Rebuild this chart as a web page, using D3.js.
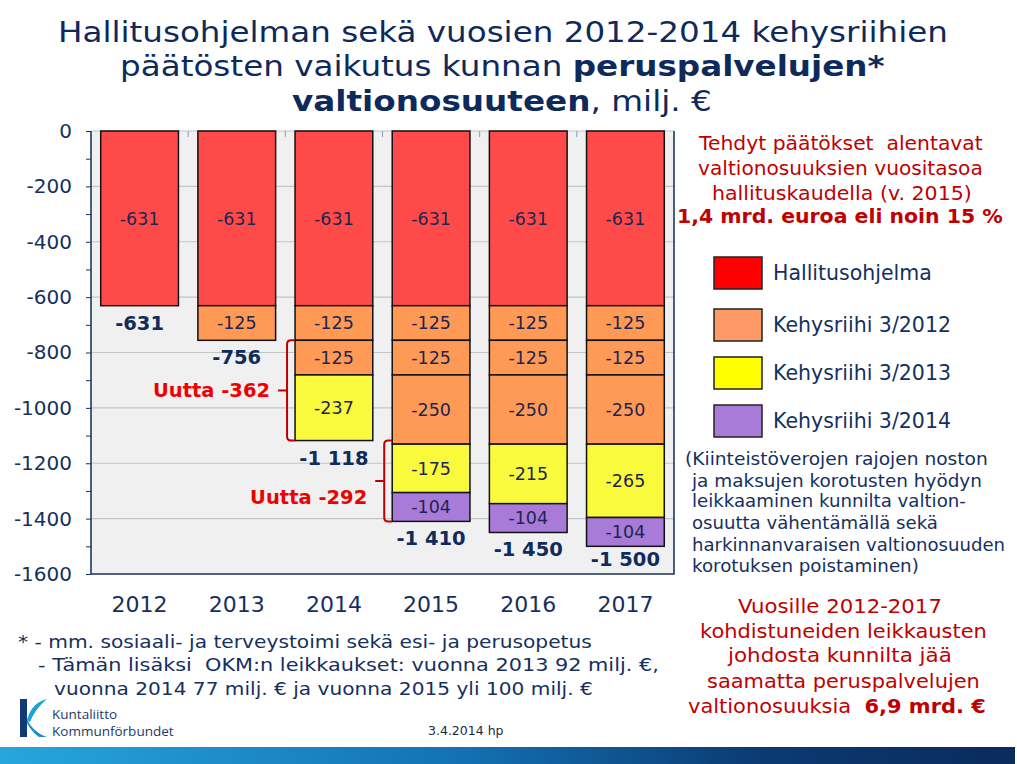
<!DOCTYPE html>
<html><head><meta charset="utf-8">
<script src="https://cdn.jsdelivr.net/npm/d3@7"></script>
<style>
html,body{margin:0;padding:0;background:#fff;}
svg{display:block;font-family:"DejaVu Sans",Verdana,sans-serif;}
</style></head>
<body>
<svg id="c" width="1017" height="764"></svg>
<script>
// ---- data ----
const years = ["2012","2013","2014","2015","2016","2017"];
const hallitusohjelma = [-631,-631,-631,-631,-631,-631];
const kehys2012a = [0,-125,-125,-125,-125,-125];
const kehys2012b = [0,0,-125,-125,-125,-125];
const kehys2012c = [0,0,0,-250,-250,-250];
const kehys2013 = [0,0,-237,-175,-215,-265];
const kehys2014 = [0,0,0,-104,-104,-104];
const yTicks = [0,-200,-400,-600,-800,-1000,-1200,-1400,-1600];
const legendLabels = ["Hallitusohjelma","Kehysriihi 3/2012","Kehysriihi 3/2013","Kehysriihi 3/2014"];
const bracketYears = ["2014","2015"];
const bracketFrom = [-756,-1118];
const bracketTo = [-1118,-1410];
const bracketLabels = ["Uutta -362","Uutta -292"];

const NAVY = "#15305f", DARKRED = "#c00000", RED = "#ee0000";
const barColors = ["#ff4a4a","#ff9a56","#fafa3c","#a97bd9"];
const legendColors = ["#ff0000","#ff9966","#ffff00","#a97bd9"];

const svg = d3.select("#c");
const defs = svg.append("defs");

// series build
const keys = ["h","a","b","c","k13","k14"];
const colorIdx = {h:0,a:1,b:1,c:1,k13:2,k14:3};
const table = years.map((y,i)=>({year:y,h:hallitusohjelma[i],a:kehys2012a[i],b:kehys2012b[i],c:kehys2012c[i],k13:kehys2013[i],k14:kehys2014[i]}));
const stacked = d3.stack().keys(keys).offset(d3.stackOffsetDiverging)(table);
const totals = table.map(d=>d3.sum(keys,k=>d[k]));

const fmt = d3.formatLocale({decimal:",",thousands:" ",grouping:[3],currency:["","€"],minus:"-"}).format(",d");

// scales
const plot = {l:91,r:674,t:131,b:574};
const x = d3.scaleBand().domain(years).range([plot.l,plot.r]).paddingInner(0).paddingOuter(0);
const y = d3.scaleLinear().domain([0,-1600]).range([plot.t,plot.b]);
const bw = x.bandwidth()*0.8;
const bx = d => x(d) + (x.bandwidth()-bw)/2;

// plot background
svg.append("rect").attr("x",plot.l).attr("y",plot.t).attr("width",plot.r-plot.l).attr("height",plot.b-plot.t).attr("fill","#f0f0f0");
// gridlines
svg.append("g").selectAll("line").data(yTicks).join("line")
  .attr("x1",plot.l).attr("x2",plot.r).attr("y1",d=>y(d)).attr("y2",d=>y(d))
  .attr("stroke","#c4c4c4").attr("stroke-width",1.2);
// top category ticks
svg.append("g").selectAll("line").data(years.slice(1)).join("line")
  .attr("x1",d=>x(d)).attr("x2",d=>x(d)).attr("y1",plot.t).attr("y2",plot.t+6)
  .attr("stroke","#8a9ab5").attr("stroke-width",1);

// y axis
const yAxis = d3.axisLeft(y).tickValues(d3.range(0,-1601,-100)).tickSize(5).tickPadding(14)
  .tickFormat(d => d%200===0 ? String(d) : "");
const gy = svg.append("g").attr("transform",`translate(${plot.l},0)`).call(yAxis);
gy.select(".domain").remove();
gy.selectAll(".tick line").attr("stroke",NAVY).attr("stroke-width",1);
gy.selectAll(".tick text").attr("fill",NAVY).style("font-size","20px").style("font-family","DejaVu Sans");

// x axis labels
const xAxis = d3.axisBottom(x).tickSize(0).tickPadding(22);
const gx = svg.append("g").attr("transform",`translate(0,${plot.b})`).call(xAxis);
gx.select(".domain").remove();
gx.selectAll(".tick text").attr("fill",NAVY).style("font-size","22px").style("font-family","DejaVu Sans");

// plot border (left, bottom, right)
svg.append("path")
  .attr("d",`M${plot.l},${plot.t}V${plot.b}H${plot.r}V${plot.t}`)
  .attr("fill","none").attr("stroke","#1f3864").attr("stroke-width",1.6);

// bars
const segs = [];
stacked.forEach(s=>{
  s.forEach((d,i)=>{
    const v = d.data[s.key];
    if (v !== 0) segs.push({year:years[i],y0:d[0],y1:d[1],v,c:colorIdx[s.key]});
  });
});
const gb = svg.append("g");
gb.selectAll("rect").data(segs).join("rect")
  .attr("x",d=>bx(d.year)).attr("width",bw)
  .attr("y",d=>y(d.y1)).attr("height",d=>y(d.y0)-y(d.y1))
  .attr("fill",d=>barColors[d.c]).attr("stroke","#111").attr("stroke-width",1.5);
gb.selectAll("text").data(segs).join("text")
  .attr("x",d=>bx(d.year)+bw/2).attr("y",d=>(y(d.y0)+y(d.y1))/2)
  .attr("dy","0.36em").attr("text-anchor","middle")
  .attr("fill","#1d2550").style("font-size","17.5px")
  .text(d=>String(d.v));

// totals
svg.append("g").selectAll("text").data(years).join("text")
  .attr("x",(d,i)=>bx(d)+bw/2)
  .attr("y",(d,i)=>Math.min(y(totals[i])+24, plot.b-8))
  .attr("text-anchor","middle").attr("fill","#0f2c5c")
  .style("font-size","19.5px").style("font-weight","bold")
  .text((d,i)=>fmt(totals[i]));

// brackets
const labelShift = [0,16];
bracketYears.forEach((yr,i)=>{
  const xr = bx(yr), xv = xr-8, y0 = y(bracketFrom[i]), y1 = y(bracketTo[i]), ym=(y0+y1)/2, r=4;
  svg.append("path")
    .attr("d",`M${xr},${y0}H${xv+r}Q${xv},${y0} ${xv},${y0+r}V${y1-r}Q${xv},${y1} ${xv+r},${y1}H${xr}M${xv},${ym}H${xv-9}`)
    .attr("fill","none").attr("stroke",DARKRED).attr("stroke-width",2);
  svg.append("text").attr("x",xv-17).attr("y",ym+labelShift[i]).attr("dy","0.36em")
    .attr("text-anchor","end").attr("fill",RED)
    .style("font-size","19.5px").style("font-weight","bold").text(bracketLabels[i]);
});

// helper: fit text line horizontally between x1..x2 at baseline
function line(parts, x1, x2, base, size, color){
  const t = svg.append("text").attr("x",0).attr("y",0).attr("fill",color).style("font-size",size+"px");
  parts.forEach(p=>{
    const ts = t.append("tspan").text(p.t);
    if (p.b) ts.style("font-weight","bold");
  });
  const w = t.node().getComputedTextLength();
  let s = (x2-x1)/w; s = Math.max(0.8,Math.min(1.25,s));
  t.attr("transform",`translate(${x1},${base}) scale(${s},1)`).attr("xml:space","preserve");
  return t;
}

// title
line([{t:"Hallitusohjelman sekä vuosien 2012-2014 kehysriihien"}],58,948,41.5,29,"#0e2a5c");
line([{t:"päätösten vaikutus kunnan "},{t:"peruspalvelujen*"}],0,0,0,1,"none").remove();
line([{t:"päätösten vaikutus kunnan "},{t:"peruspalvelujen*",b:true}],120,885,75.5,29,"#0e2a5c");
line([{t:"valtionosuuteen",b:true},{t:", milj. €"}],292,712,110.5,29,"#0e2a5c");

// right panel block 1
line([{t:"Tehdyt päätökset\u00a0 alentavat"}],699,983,150,19,DARKRED);
line([{t:"valtionosuuksien vuositasoa"}],698,983,175,19,DARKRED);
line([{t:"hallituskaudella (v. 2015)"}],712,972,199.5,19,DARKRED);
line([{t:"1,4 mrd. euroa eli noin 15 %",b:true}],677,1003,223,19,DARKRED);

// legend
const legTop = [257,309,357,405];
const lg = svg.append("g");
lg.selectAll("rect").data(legendLabels).join("rect")
  .attr("x",714).attr("y",(d,i)=>legTop[i]).attr("width",48).attr("height",32)
  .attr("fill",(d,i)=>legendColors[i]).attr("stroke","#222").attr("stroke-width",1.5);
lg.selectAll("text").data(legendLabels).join("text")
  .attr("x",773).attr("y",(d,i)=>legTop[i]+23).attr("fill",NAVY)
  .style("font-size","20.5px").text(d=>d);

// right panel block 2
line([{t:"(Kiinteistöverojen rajojen noston"}],685,988,465,17.5,NAVY);
line([{t:"ja maksujen korotusten hyödyn"}],692,982,486.5,17.5,NAVY);
line([{t:"leikkaaminen kunnilta valtion-"}],692,966,507,17.5,NAVY);
line([{t:"osuutta vähentämällä sekä"}],692,938,529,17.5,NAVY);
line([{t:"harkinnanvaraisen valtionosuuden"}],692,1005,551,17.5,NAVY);
line([{t:"korotuksen poistaminen)"}],692,919,572,17.5,NAVY);

// right panel block 3
line([{t:"Vuosille 2012-2017"}],738,942,613,20,DARKRED);
line([{t:"kohdistuneiden leikkausten"}],700,987,637.5,20,DARKRED);
line([{t:"johdosta kunnilta jää"}],728,952,661.5,20,DARKRED);
line([{t:"saamatta peruspalvelujen"}],707,980,688,20,DARKRED);
line([{t:"valtionosuuksia\u00a0 "},{t:"6,9 mrd. €",b:true}],688,986,713,20,DARKRED);

// footnote
line([{t:"* - mm. sosiaali- ja terveystoimi sekä esi- ja perusopetus"}],18,592,648,18.5,NAVY);
line([{t:"- Tämän lisäksi\u00a0 OKM:n leikkaukset: vuonna 2013 92 milj. €,"}],38,659,671,18.5,NAVY);
line([{t:"vuonna 2014 77 milj. € ja vuonna 2015 yli 100 milj. €"}],54,593,695,18.5,NAVY);

// date
svg.append("text").attr("x",428).attr("y",735).attr("fill","#1a2a4a").style("font-size","12.5px").text("3.4.2014 hp");

// logo
const logo = svg.append("g");
logo.append("path").attr("d","M20,699 H27 V737 H20 Z").attr("fill","#123a73");
logo.append("path").attr("d","M27,720 C30,708 38,701 47,699 C40,705 34,712 30,722 Z").attr("fill","#1ba3d6");
logo.append("path").attr("d","M27,719 C31,728 38,734 47,737 L39,737 C33,733 29,727 27,723 Z").attr("fill","#1b8fd0");
logo.append("text").attr("x",52).attr("y",719).attr("fill","#1d3a6e").style("font-size","13.5px").style("font-family","Open Sans").text("Kuntaliitto");
logo.append("text").attr("x",52).attr("y",735.5).attr("fill","#1d3a6e").style("font-size","13.5px").style("font-family","Open Sans").text("Kommunförbundet");

// footer gradient
const grad = defs.append("linearGradient").attr("id","fg").attr("x1","0").attr("x2","1").attr("y1","0").attr("y2","0");
grad.append("stop").attr("offset","0").attr("stop-color","#27a6dc");
grad.append("stop").attr("offset","0.45").attr("stop-color","#1372b4");
grad.append("stop").attr("offset","0.75").attr("stop-color","#0b3a72");
grad.append("stop").attr("offset","1").attr("stop-color","#0a2b5c");
svg.append("rect").attr("x",0).attr("y",747).attr("width",1015).attr("height",17).attr("fill","url(#fg)");
</script>
</body></html>
